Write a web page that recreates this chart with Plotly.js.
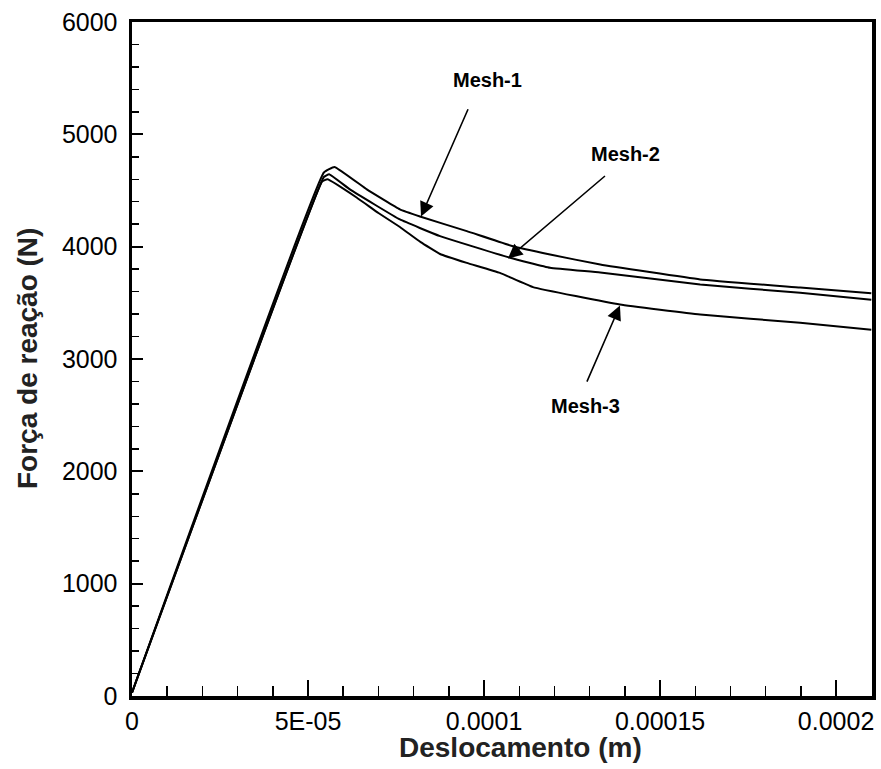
<!DOCTYPE html>
<html>
<head>
<meta charset="utf-8">
<script src="https://cdn.plot.ly/plotly-3.0.1.min.js"></script>
<style>html,body{margin:0;padding:0;background:#fff;}#chart{width:881px;height:769px;}</style>
</head>
<body>
<div id="chart"></div>
<script>
// Displacement (m) and reaction force (N) per mesh
const mesh1X = [0, 5.45e-5, 5.75e-5, 6.67e-5, 7.61e-5, 8.18e-5, 9.51e-5, 1.082e-4, 1.1875e-4, 1.33e-4, 1.614e-4, 1.898e-4, 2.1e-4];
const mesh1Y = [30, 4660, 4710, 4510, 4332, 4269, 4138, 4004, 3930, 3841, 3708, 3636, 3585];

const mesh2X = [0, 5.45e-5, 5.6e-5, 6.19e-5, 7.61e-5, 8.75e-5, 1.074e-4, 1.1875e-4, 1.33e-4, 1.614e-4, 1.898e-4, 2.1e-4];
const mesh2Y = [30, 4620, 4645, 4510, 4242, 4094, 3901, 3812, 3770, 3663, 3589, 3527];

const mesh3X = [0, 5.4e-5, 5.55e-5, 6.38e-5, 7.0e-5, 7.61e-5, 8.2e-5, 8.75e-5, 9.51e-5, 1.045e-4, 1.139e-4, 1.386e-4, 1.614e-4, 1.898e-4, 2.1e-4];
const mesh3Y = [30, 4580, 4600, 4438, 4300, 4175, 4040, 3935, 3856, 3767, 3640, 3485, 3396, 3322, 3260];

const seriesNames = ["Mesh-1", "Mesh-2", "Mesh-3"];
const xTickVals = [0, 5e-5, 1e-4, 1.5e-4, 2e-4];
const xTickText = ["0", "5E-05", "0.0001", "0.00015", "0.0002"];
const yTickVals = [0, 1000, 2000, 3000, 4000, 5000, 6000];

// Arrow tips (data) and label positions (data)
const arrowTipX = [8.21e-5, 1.068e-4, 1.386e-4];
const arrowTipY = [4269, 3895, 3476];
const labelX = [1.01e-4, 1.403e-4, 1.287e-4];
const labelY = [5486, 4822, 2580];

const xs = [mesh1X, mesh2X, mesh3X];
const ys = [mesh1Y, mesh2Y, mesh3Y];
const traces = xs.map((x, i) => ({
  x: x, y: ys[i], type: "scatter", mode: "lines", name: seriesNames[i],
  line: {color: "#000", width: 2, shape: "spline", smoothing: 0.3}, showlegend: false
}));

const arrowOffsets = [[50, -114], [100, -85], [-36, 83]];
const annotations = [];
seriesNames.forEach((n, i) => {
  annotations.push({
    x: arrowTipX[i], y: arrowTipY[i], xref: "x", yref: "y",
    ax: arrowOffsets[i][0], ay: arrowOffsets[i][1],
    text: " ", showarrow: true, arrowhead: 2, arrowsize: 1.8, arrowwidth: 1.6,
    arrowcolor: "#000", standoff: 0, startstandoff: 0
  });
  annotations.push({
    x: labelX[i], y: labelY[i], xref: "x", yref: "y",
    text: "<b>" + n + "</b>", showarrow: false,
    font: {family: "Liberation Sans, Arial, sans-serif", size: 20, color: "#000"},
    xanchor: "center", yanchor: "middle"
  });
});
annotations.push({
  x: 0.525, y: 0, xref: "paper", yref: "paper", yshift: -51,
  text: "<b>Deslocamento (m)</b>", showarrow: false, xanchor: "center", yanchor: "middle",
  font: {family: "Liberation Sans, Arial, sans-serif", size: 28, color: "#222"}
});
annotations.push({
  x: 0, y: 0.5, xref: "paper", yref: "paper", xshift: -105,
  text: "<b>Força de reação (N)</b>", showarrow: false, textangle: -90,
  xanchor: "center", yanchor: "middle",
  font: {family: "Liberation Sans, Arial, sans-serif", size: 28, color: "#222"}
});

const layout = {
  width: 881, height: 769,
  margin: {l: 132, r: 9, t: 22, b: 73},
  paper_bgcolor: "#fff", plot_bgcolor: "#fff",
  font: {family: "Liberation Sans, Arial, sans-serif", color: "#000"},
  xaxis: {
    range: [0, 2.102e-4], tickmode: "array", tickvals: xTickVals, ticktext: xTickText,
    ticks: "inside", ticklen: 16, tickwidth: 2, tickcolor: "#000",
    minor: {dtick: 1e-5, tick0: 0, ticks: "inside", ticklen: 10, tickwidth: 1.5, tickcolor: "#000"},
    showline: true, linecolor: "#000", linewidth: 3.5, mirror: true,
    showgrid: false, zeroline: false,
    tickfont: {size: 25, color: "#000"}, ticklabelstandoff: 0
  },
  yaxis: {
    range: [0, 6000], tickmode: "array", tickvals: yTickVals,
    ticks: "inside", ticklen: 11, tickwidth: 2, tickcolor: "#000",
    minor: {dtick: 200, tick0: 0, ticks: "inside", ticklen: 7, tickwidth: 1.5, tickcolor: "#000"},
    showline: true, linecolor: "#000", linewidth: 3.5, mirror: true,
    showgrid: false, zeroline: false,
    tickfont: {size: 25, color: "#000"}, ticklabelstandoff: 6
  },
  annotations: annotations
};

Plotly.newPlot("chart", traces, layout, {staticPlot: true, displayModeBar: false});
</script>
</body>
</html>
